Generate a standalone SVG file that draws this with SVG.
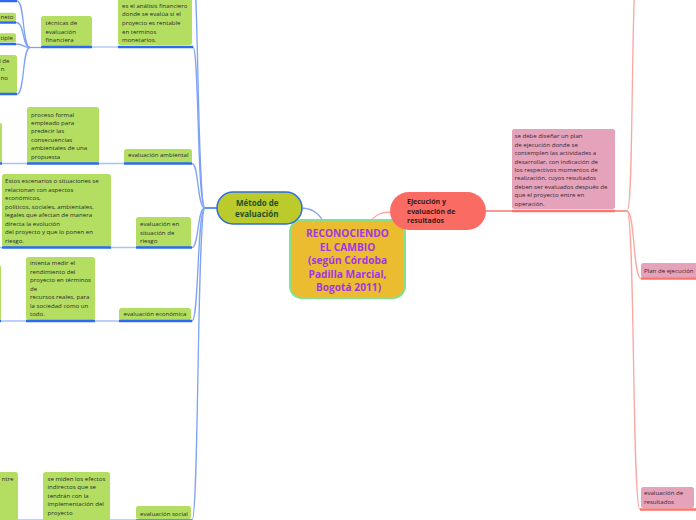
<svg xmlns="http://www.w3.org/2000/svg" width="696" height="520" viewBox="0 0 696 520">
<style>
.t{font-family:"Open Sans","Noto Sans",sans-serif;font-size:6.1px;fill:#2b2b2b}
.tp{font-family:"Open Sans","Noto Sans",sans-serif;font-size:6.1px;fill:#3a2730}
.g{fill:#b3de62}
.p{fill:#e4a2bb}
.ul{stroke:#2c6bf0;stroke-width:2.5;fill:none}
.ulr{stroke:#f8746c;stroke-width:2.5;fill:none}
.c{fill:none;stroke:#7ea3f4;stroke-width:1.3}
.cl{fill:none;stroke:#a8c1f8;stroke-width:1.3}
.cr{fill:none;stroke:#f9a7a0;stroke-width:1.3}
</style>
<rect width="696" height="520" fill="#ffffff"/>
<g id="connectors">
  <!-- centre to main branches -->
  <path class="c" d="M325,224 C318,212 312,208 300,208" stroke="#3c78ee"/>
  <path class="cr" d="M370,222 C376,214 382,212 392,212"/>
  <!-- Método hub -->
  <path d="M205,208 L218,208" stroke="#2c6be0" stroke-width="1.5"/>
  <path class="c" d="M205,208 C197,208 199,-40 192,-40"/>
  <path class="c" d="M205,208 C197,208 199,47 193,47"/>
  <path class="c" d="M205,208 C197,208 199,163.5 192,163.5"/>
  <path class="c" d="M205,208 C197,208 199,247.5 192,247.5"/>
  <path class="c" d="M205,208 C197,208 199,321 192,321"/>
  <path class="c" d="M205,208 C197,208 199,520 192,520"/>
  <!-- chain lines -->
  <path class="cl" d="M92,47 L118,47"/>
  <path class="c" d="M30,47.5 L41,47.5"/>
  <path class="c" d="M30,47.5 C22,47.5 25,1 17,1"/>
  <path class="c" d="M30,47.5 C22,47.5 25,22.5 16,22.5"/>
  <path class="c" d="M30,47.5 C22,47.5 25,44 16,44"/>
  <path class="c" d="M30,47.5 C22,47.5 25,94 17,94"/>
  <path class="cl" d="M2,163.5 L27,163.5 M99,163.5 L124,163.5"/>
  <path class="cl" d="M0,247.5 L2,247.5 M111,247.5 L136,247.5"/>
  <path class="cl" d="M1,321 L26,321 M95,321 L119,321"/>
  <path class="cl" d="M0,520 L136,520"/>
  <!-- Ejecución -->
  <path d="M486,211 L627,211" stroke="#f8766e" stroke-width="1.5"/>
  <path class="cr" d="M627,211 C635,211 629,-60 641,-60"/>
  <path class="cr" d="M627,211 C635,211 633,278.5 641,278.5"/>
  <path class="cr" d="M627,211 C635,211 632,509.5 640,509.5"/>
</g>

<g id="central">
  <rect x="290" y="220" width="115" height="78" rx="12" fill="#ebbc2f" stroke="#82e08e" stroke-width="2"/>
  <g font-family="'Open Sans','Noto Sans',sans-serif" font-size="10.2" font-weight="bold" fill="#a236e0" text-anchor="middle">
    <text x="347.5" y="237">RECONOCIENDO</text>
    <text x="347.5" y="250.5">EL CAMBIO</text>
    <text x="347.5" y="264">(según Córdoba</text>
    <text x="347.5" y="277.5">Padilla Marcial,</text>
    <text x="348.5" y="291">Bogotá 2011)</text>
  </g>
</g>

<g id="metodo">
  <rect x="217" y="192" width="85" height="32" rx="16" fill="#bccb2c" stroke="#2d6be0" stroke-width="1.5"/>
  <g font-family="'Open Sans','Noto Sans',sans-serif" font-size="8" font-weight="bold" fill="#234f23">
    <text x="236" y="206">Método de</text>
    <text x="235" y="217">evaluación</text>
  </g>
</g>

<g id="ejecucion">
  <rect x="390" y="192" width="96" height="38" rx="19" fill="#fa6b63"/>
  <g font-family="'Open Sans','Noto Sans',sans-serif" font-size="7" font-weight="bold" fill="#3a1a1a">
    <text x="407" y="204">Ejecución y</text>
    <text x="407" y="213.5">evaluación de</text>
    <text x="407" y="222.5">resultados</text>
  </g>
</g>

<g id="analisis-financiero">
  <rect class="g" x="118" y="-10" width="74" height="55" rx="2.5"/>
  <path class="ul" d="M118,47 L193,47"/>
  <text class="t" x="122" y="7.7">es el análisis financiero</text>
  <text class="t" x="122" y="16.3">donde se evalúa si el</text>
  <text class="t" x="122" y="24.9">proyecto es rentable</text>
  <text class="t" x="122" y="33.5">en terminos</text>
  <text class="t" x="122" y="42.1">monetarios.</text>
</g>

<g id="tecnicas">
  <rect class="g" x="41" y="16" width="51" height="30" rx="2.5"/>
  <path class="ul" d="M41,47 L92,47"/>
  <text class="t" x="45.5" y="25">técnicas de</text>
  <text class="t" x="45.5" y="33.5">evaluación</text>
  <text class="t" x="45.5" y="42">financiera</text>
</g>

<g id="left-top">
  <rect class="g" x="-5" y="-20" width="22" height="20" rx="2.5"/>
  <path class="ul" d="M0,1 L17,1"/>
</g>
<g id="left-neto">
  <rect class="g" x="-10" y="12.7" width="26" height="8.5" rx="2"/>
  <path class="ul" d="M0,22.5 L16,22.5"/>
  <text class="t" x="13.5" y="18.5" text-anchor="end">neto</text>
</g>
<g id="left-tiple">
  <rect class="g" x="-10" y="33.3" width="26" height="9" rx="2"/>
  <path class="ul" d="M0,44 L16,44"/>
  <text class="t" x="13" y="39.5" text-anchor="end">tiple</text>
</g>
<g id="left-lde">
  <rect class="g" x="-10" y="55" width="27" height="38" rx="2.5"/>
  <path class="ul" d="M0,94 L17,94"/>
  <text class="t" x="9.5" y="62.8" text-anchor="end">l de</text>
  <text class="t" x="4.5" y="71.2" text-anchor="end">n</text>
  <text class="t" x="8" y="79.6" text-anchor="end">no</text>
</g>

<g id="left-ambiental">
  <rect class="g" x="-10" y="123" width="12" height="40" rx="2"/>
  <path class="ul" d="M0,163.5 L2,163.5"/>
</g>
<g id="proceso-formal">
  <rect class="g" x="27" y="107" width="72" height="56" rx="2.5"/>
  <path class="ul" d="M27,163.5 L99,163.5"/>
  <text class="t" x="31" y="116.5">proceso formal</text>
  <text class="t" x="31" y="125">empleado para</text>
  <text class="t" x="31" y="133.4">predecir las</text>
  <text class="t" x="31" y="141.9">consecuencias</text>
  <text class="t" x="31" y="150.3">ambientales de una</text>
  <text class="t" x="31" y="158.8">propuesta</text>
</g>
<g id="evaluacion-ambiental">
  <rect class="g" x="124" y="149" width="68" height="14" rx="2.5"/>
  <path class="ul" d="M124,163.5 L192,163.5"/>
  <text class="t" x="128" y="156.7">evaluación ambiental</text>
</g>

<g id="escenarios">
  <rect class="g" x="2" y="174" width="109" height="73" rx="2.5"/>
  <path class="ul" d="M2,247.5 L111,247.5"/>
  <text class="t" x="5" y="183">Estos escenarios o situaciones se</text>
  <text class="t" x="5" y="191.6">relacionan con aspectos</text>
  <text class="t" x="5" y="200.1">económicos,</text>
  <text class="t" x="5" y="208.7">políticos, sociales, ambientales,</text>
  <text class="t" x="5" y="217.3">legales que afectan de manera</text>
  <text class="t" x="5" y="225.8">directa la evolución</text>
  <text class="t" x="5" y="234.4">del proyecto y que lo ponen en</text>
  <text class="t" x="5" y="243">riesgo.</text>
</g>
<g id="evaluacion-riesgo">
  <rect class="g" x="136" y="217" width="55" height="30" rx="2.5"/>
  <path class="ul" d="M136,247.5 L192,247.5"/>
  <text class="t" x="140" y="226">evaluación en</text>
  <text class="t" x="140" y="234.5">situación de</text>
  <text class="t" x="140" y="243">riesgo</text>
</g>

<g id="left-economica">
  <rect class="g" x="-10" y="265" width="11" height="55" rx="2"/>
  <path class="ul" d="M0,321 L1,321"/>
</g>
<g id="rendimiento">
  <rect class="g" x="26" y="257" width="69" height="63" rx="2.5"/>
  <path class="ul" d="M26,321 L95,321"/>
  <text class="t" x="30" y="265"> intenta medir el</text>
  <text class="t" x="30" y="273.5">rendimiento del</text>
  <text class="t" x="30" y="282">proyecto en términos</text>
  <text class="t" x="30" y="290.5">de</text>
  <text class="t" x="30" y="299">recursos reales, para</text>
  <text class="t" x="30" y="307.5">la sociedad como un</text>
  <text class="t" x="30" y="316">todo.</text>
</g>
<g id="evaluacion-economica">
  <rect class="g" x="119" y="308" width="72" height="12.5" rx="2.5"/>
  <path class="ul" d="M119,321 L192,321"/>
  <text class="t" x="123.5" y="316">evaluación económica</text>
</g>

<g id="left-social">
  <rect class="g" x="-10" y="472" width="28" height="60" rx="2.5"/>
  <text class="t" x="13.5" y="480.5" text-anchor="end">ntre</text>
</g>
<g id="efectos">
  <rect class="g" x="43" y="472" width="67" height="60" rx="2.5"/>
  <text class="t" x="47.5" y="480.7">se miden los efectos</text>
  <text class="t" x="47.5" y="489.2">indirectos que se</text>
  <text class="t" x="47.5" y="497.7">tendrán con la</text>
  <text class="t" x="47.5" y="506.2">implementación del</text>
  <text class="t" x="47.5" y="514.7">proyecto</text>
</g>
<g id="evaluacion-social">
  <rect class="g" x="136" y="506" width="55" height="13" rx="2.5"/>
  <path class="ul" d="M136,520.5 L192,520.5"/>
  <text class="t" x="140" y="515.5">evaluación social</text>
</g>

<g id="plan-descripcion">
  <rect class="p" x="512" y="129" width="103" height="80" rx="2.5"/>
  <path class="ulr" d="M512,211 L615,211" stroke-width="1.8"/>
  <text class="tp" x="514.5" y="138.3">se debe diseñar un plan</text>
  <text class="tp" x="514.5" y="146.7">de ejecución donde se</text>
  <text class="tp" x="514.5" y="155.1">contemplen las actividades a</text>
  <text class="tp" x="514.5" y="163.5">desarrollar, con indicación de</text>
  <text class="tp" x="514.5" y="171.9">los respectivos momentos de</text>
  <text class="tp" x="514.5" y="180.3">realización, cuyos resultados</text>
  <text class="tp" x="514.5" y="188.7">deben ser evaluados después de</text>
  <text class="tp" x="514.5" y="197.1">que el proyecto entre en</text>
  <text class="tp" x="514.5" y="205.5">operación.</text>
</g>
<g id="plan-ejecucion">
  <rect class="p" x="641" y="263" width="60" height="14.5" rx="2.5"/>
  <path class="ulr" d="M641,278.5 L696,278.5"/>
  <text class="tp" x="644" y="272.5">Plan de ejecución</text>
</g>
<g id="evaluacion-resultados">
  <rect class="p" x="641" y="487" width="53" height="21" rx="2.5"/>
  <path class="ulr" d="M640,509.5 L696,509.5"/>
  <text class="tp" x="644" y="495">evaluación de</text>
  <text class="tp" x="644" y="504">resultados</text>
</g>
</svg>
